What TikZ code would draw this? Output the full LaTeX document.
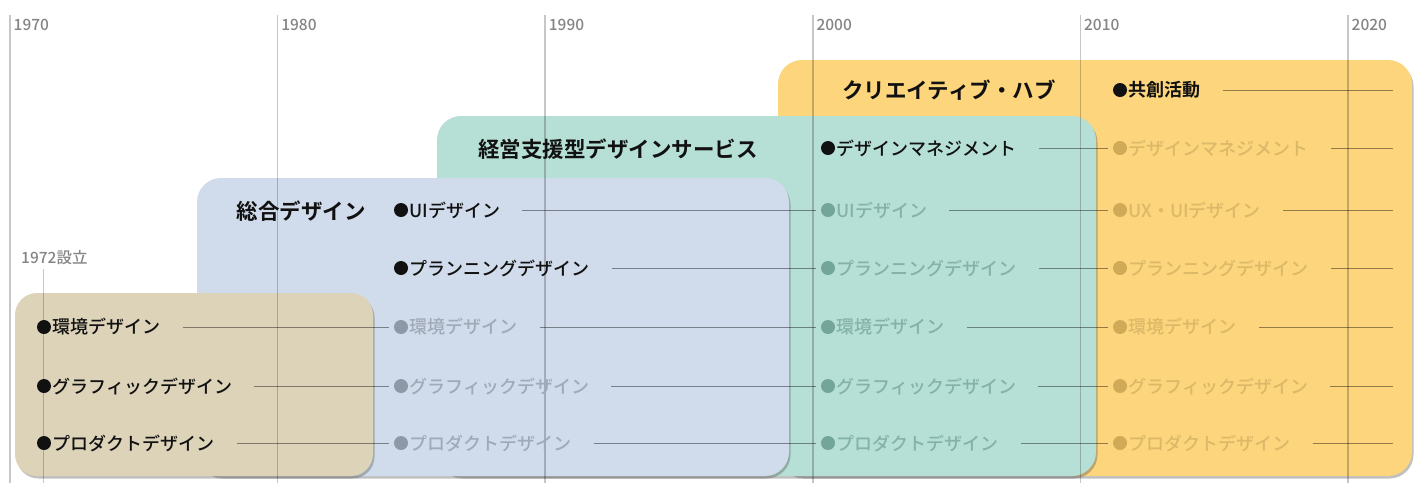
\documentclass[tikz,border=0pt]{standalone}
\usepackage{fontspec}
\setmainfont{Noto Sans CJK JP}[UprightFont={Noto Sans CJK JP Medium}, BoldFont={Noto Sans CJK JP Bold}]
\usetikzlibrary{shadows}
\definecolor{tanbox}{HTML}{DCD3B9}
\definecolor{bluebox}{HTML}{D0DCEB}
\definecolor{greenbox}{HTML}{B6E0D6}
\definecolor{yellowbox}{HTML}{FCD57C}
\definecolor{yeargray}{HTML}{858585}
\definecolor{bluefadetext}{HTML}{A0A9B7}
\definecolor{bluefadedot}{HTML}{8E99A8}
\definecolor{greenfadetext}{HTML}{84B2A7}
\definecolor{greenfadedot}{HTML}{74A599}
\definecolor{yellowfadetext}{HTML}{DCB968}
\definecolor{yellowfadedot}{HTML}{D1AA58}
\definecolor{inkblack}{HTML}{111111}
\tikzset{
  bgbox/.style={rounded corners=24pt, drop shadow={shadow xshift=1.5pt, shadow yshift=-2.5pt, opacity=0.35, fill=black!70}},
  dot/.style={circle, inner sep=0pt, minimum size=14pt},
  itm/.style={font=\fontsize{18}{20}\selectfont, inner sep=0pt, anchor=west},
  ttl/.style={font=\bfseries\fontsize{21.5}{24}\selectfont, inner sep=0pt, text=inkblack},
  yearlbl/.style={font=\fontsize{15.5}{17}\selectfont, text=yeargray, inner sep=0pt, anchor=west},
  tline/.style={draw=black, draw opacity=0.22, line width=1.6pt},
  conn/.style={draw=black, draw opacity=0.42, line width=0.9pt},
}
\newcommand\mkitem[6]{%
  \node[dot, fill=#4] (#1d) at (#2,#3) {};
  \node[itm, text=#5] (#1) at ([xshift=1pt]#1d.east) {#6};
}
\newcommand\lnk[2]{\draw[conn] ([xshift=22pt]#1.east) -- ([xshift=-5pt]#2d.west);}
\newcommand\lnkend[1]{\draw[conn] ([xshift=22pt]#1.east) -- (#1.east -| rend);}
\begin{document}
\begin{tikzpicture}[x=1pt,y=-1pt]
\useasboundingbox (0,0) rectangle (1416,483);
\fill[white] (0,0) rectangle (1416,483);
\coordinate (rend) at (1393,0);

% boxes (back to front)
\path[bgbox, fill=yellowbox] (778,60) rectangle (1412,476);
\path[bgbox, fill=greenbox] (437,116) rectangle (1096,476);
\path[bgbox, fill=bluebox] (197,178) rectangle (789,476);
\path[bgbox, fill=tanbox, rounded corners=22pt] (15,293) rectangle (373,476);

% timeline
\foreach \yr/\xx in {1970/10,1980/277.6,1990/545.2,2000/812.8,2010/1080.4,2020/1348}{
  \draw[tline] (\xx,15) -- (\xx,483);
  \node[yearlbl] (y\yr) at (\xx+3.5,25) {\yr};
}
\node[yearlbl] (found) at (21,258) {1972設立};
\draw[tline] (43.5,269) -- (43.5,483);

% titles
\node[ttl] (t1) at (301,211) {総合デザイン};
\node[ttl] (t2) at (618,149) {経営支援型デザインサービス};
\node[ttl] (t3) at (949,90) {クリエイティブ・ハブ};

% column 1 (tan)
\mkitem{aenv}{44}{327}{inkblack}{inkblack}{環境デザイン}
\mkitem{agra}{44}{386}{inkblack}{inkblack}{グラフィックデザイン}
\mkitem{apro}{44}{443}{inkblack}{inkblack}{プロダクトデザイン}

% column 2 (blue)
\mkitem{bui}{401}{210}{inkblack}{inkblack}{UIデザイン}
\mkitem{bpla}{401}{268}{inkblack}{inkblack}{プランニングデザイン}
\mkitem{benv}{401}{327}{bluefadedot}{bluefadetext}{環境デザイン}
\mkitem{bgra}{401}{386}{bluefadedot}{bluefadetext}{グラフィックデザイン}
\mkitem{bpro}{401}{443}{bluefadedot}{bluefadetext}{プロダクトデザイン}

% column 3 (green)
\mkitem{cdm}{828}{148}{inkblack}{inkblack}{デザインマネジメント}
\mkitem{cui}{828}{210}{greenfadedot}{greenfadetext}{UIデザイン}
\mkitem{cpla}{828}{268}{greenfadedot}{greenfadetext}{プランニングデザイン}
\mkitem{cenv}{828}{327}{greenfadedot}{greenfadetext}{環境デザイン}
\mkitem{cgra}{828}{386}{greenfadedot}{greenfadetext}{グラフィックデザイン}
\mkitem{cpro}{828}{443}{greenfadedot}{greenfadetext}{プロダクトデザイン}

% column 4 (yellow)
\mkitem{dco}{1120}{90}{inkblack}{inkblack}{\bfseries 共創活動}
\mkitem{ddm}{1120}{148}{yellowfadedot}{yellowfadetext}{デザインマネジメント}
\mkitem{dui}{1120}{210}{yellowfadedot}{yellowfadetext}{UX・UIデザイン}
\mkitem{dpla}{1120}{268}{yellowfadedot}{yellowfadetext}{プランニングデザイン}
\mkitem{denv}{1120}{327}{yellowfadedot}{yellowfadetext}{環境デザイン}
\mkitem{dgra}{1120}{386}{yellowfadedot}{yellowfadetext}{グラフィックデザイン}
\mkitem{dpro}{1120}{443}{yellowfadedot}{yellowfadetext}{プロダクトデザイン}

% connectors
\lnk{aenv}{benv} \lnk{benv}{cenv} \lnk{cenv}{denv} \lnkend{denv}
\lnk{agra}{bgra} \lnk{bgra}{cgra} \lnk{cgra}{dgra} \lnkend{dgra}
\lnk{apro}{bpro} \lnk{bpro}{cpro} \lnk{cpro}{dpro} \lnkend{dpro}
\lnk{bui}{cui} \lnk{cui}{dui} \lnkend{dui}
\lnk{bpla}{cpla} \lnk{cpla}{dpla} \lnkend{dpla}
\lnk{cdm}{ddm} \lnkend{ddm}
\lnkend{dco}
\end{tikzpicture}
\end{document}
